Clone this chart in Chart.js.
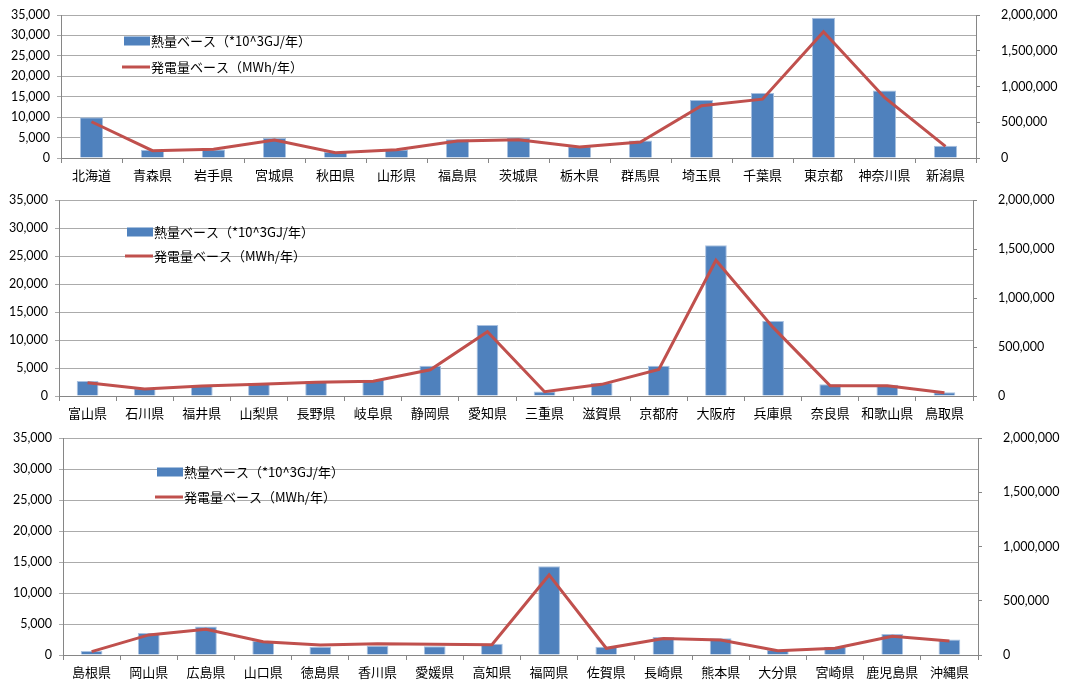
<!DOCTYPE html>
<html>
<head>
<meta charset="utf-8">
<script src="https://cdn.jsdelivr.net/npm/chart.js@4.4.1/dist/chart.umd.min.js"></script>
<style>
  body { margin: 0; background: #fff; width: 1067px; height: 684px; overflow: hidden; }
  canvas { position: absolute; left: 0; }
</style>
</head>
<body>
<canvas id="c1" width="1067" height="185" style="top:0px"></canvas>
<canvas id="c2" width="1067" height="240" style="top:185px"></canvas>
<canvas id="c3" width="1067" height="259" style="top:425px"></canvas>
<script>
//Series names shown in the legend
const heatLabel = '熱量ベース（*10^3GJ/年）';
const powerLabel = '発電量ベース（MWh/年）';

//Top panel
const prefs1 = ['北海道', '青森県', '岩手県', '宮城県', '秋田県', '山形県', '福島県', '茨城県', '栃木県', '群馬県', '埼玉県', '千葉県', '東京都', '神奈川県', '新潟県'];
const heat1 = [10000, 2000, 2100, 4900, 1500, 2100, 4600, 5000, 2900, 4300, 14200, 15900, 34300, 16500, 3000];
const power1 = [507000, 102000, 121000, 252000, 74000, 117000, 237000, 256000, 153000, 223000, 730000, 823000, 1767000, 847000, 163000];

//Middle panel
const prefs2 = ['富山県', '石川県', '福井県', '山梨県', '長野県', '岐阜県', '静岡県', '愛知県', '三重県', '滋賀県', '京都府', '大阪府', '兵庫県', '奈良県', '和歌山県', '鳥取県'];
const heat2 = [2700, 1400, 1800, 2300, 2700, 2900, 5400, 12700, 800, 2300, 5400, 26900, 13400, 2100, 2000, 650];
const power2 = [136000, 71000, 102000, 119000, 140000, 150000, 268000, 656000, 44000, 119000, 272000, 1385000, 700000, 105000, 105000, 34000];

//Bottom panel
const prefs3 = ['島根県', '岡山県', '広島県', '山口県', '徳島県', '香川県', '愛媛県', '高知県', '福岡県', '佐賀県', '長崎県', '熊本県', '大分県', '宮崎県', '鹿児島県', '沖縄県'];
const heat3 = [650, 3550, 4600, 2260, 1350, 1500, 1400, 1800, 14300, 1350, 2900, 2700, 800, 1350, 3400, 2500];
const power3 = [31000, 185000, 237000, 123000, 92000, 104000, 98000, 95000, 738000, 62000, 151000, 138000, 40000, 62000, 172000, 129000];

//Axis ranges
const heatMax = 35000, heatStep = 5000;
const powerMax = 2000000, powerStep = 500000;

const barColor = '#4F81BD';
const lineColor = '#C0504D';
const gridColor = '#ABABAB';
const axisColor = '#868686';
const numFont = { family: 'Lato, "Liberation Sans", sans-serif', size: 12.5 };
const jpFont = '"Noto Sans CJK JP", sans-serif';

//Legend drawn inside the plot, like the original sheet
const legendBox = {
  id: 'legendBox',
  afterDraw(chart, args, opts) {
    const ctx = chart.ctx;
    ctx.save();
    ctx.fillStyle = barColor;
    ctx.fillRect(opts.x, opts.y1 - 4.5, 26, 9);
    ctx.strokeStyle = lineColor;
    ctx.lineWidth = 3;
    ctx.beginPath();
    ctx.moveTo(opts.x - 2, opts.y2);
    ctx.lineTo(opts.x + 26, opts.y2);
    ctx.stroke();
    ctx.fillStyle = '#000';
    ctx.font = '13px ' + jpFont;
    ctx.textBaseline = 'middle';
    ctx.fillText(heatLabel, opts.x + 27, opts.y1);
    ctx.fillText(powerLabel, opts.x + 27, opts.y2);
    ctx.restore();
  }
};

//Fix the axis box sizes so the plot lands where the original one is
function fixWidth(w) {
  return (scale) => {
    scale.width = w;
    scale.paddingTop = 0;
    scale.paddingBottom = 0;
  };
}

function makePanel(id, labels, heat, power, box) {
  const ctx = document.getElementById(id).getContext('2d');
  return new Chart(ctx, {
    type: 'bar',
    data: {
      labels: labels,
      datasets: [{
        type: 'line',
        label: powerLabel,
        data: power,
        yAxisID: 'y1',
        borderColor: lineColor,
        borderWidth: 3,
        pointRadius: 0,
        tension: 0,
        order: 0
      }, {
        type: 'bar',
        label: heatLabel,
        data: heat,
        yAxisID: 'y',
        backgroundColor: barColor,
        borderColor: '#A9C1E0',
        borderWidth: 1,
        barPercentage: 0.38,
        categoryPercentage: 1,
        order: 1
      }]
    },
    options: {
      responsive: false,
      devicePixelRatio: 1,
      animation: false,
      layout: { autoPadding: false, padding: { top: box.top, left: 0, right: 0, bottom: 0 } },
      scales: {
        x: {
          offset: true,
          grid: { offset: true, drawOnChartArea: false, color: axisColor, tickLength: 5 },
          border: { color: axisColor },
          ticks: { color: '#000', font: { family: jpFont, size: 13 }, padding: 4, maxRotation: 0, autoSkip: false },
          afterFit: (scale) => {
            scale.height = box.xh;
            scale.paddingLeft = 0;
            scale.paddingRight = 0;
          }
        },
        y: {
          position: 'left',
          min: 0, max: heatMax,
          ticks: { stepSize: heatStep, color: '#000', font: numFont, padding: 7 },
          grid: { color: gridColor, tickLength: 4 },
          border: { color: axisColor },
          afterFit: fixWidth(box.left)
        },
        y1: {
          position: 'right',
          min: 0, max: powerMax,
          ticks: { stepSize: powerStep, color: '#000', font: numFont, padding: 21 },
          grid: { drawOnChartArea: false, color: axisColor, tickLength: 4 },
          border: { color: axisColor },
          afterFit: fixWidth(box.right)
        }
      },
      plugins: {
        legend: { display: false },
        tooltip: { enabled: false },
        legendBox: { x: box.lx, y1: box.ly1, y2: box.ly2 }
      }
    },
    plugins: [legendBox]
  });
}

makePanel('c1', prefs1, heat1, power1, { top: 15, xh: 27, left: 61, right: 91, lx: 124, ly1: 41, ly2: 67 });
makePanel('c2', prefs2, heat2, power2, { top: 15, xh: 29, left: 59, right: 94, lx: 127, ly1: 47, ly2: 71 });
makePanel('c3', prefs3, heat3, power3, { top: 13, xh: 29, left: 63, right: 89, lx: 157, ly1: 47, ly2: 72 });
</script>
</body>
</html>
